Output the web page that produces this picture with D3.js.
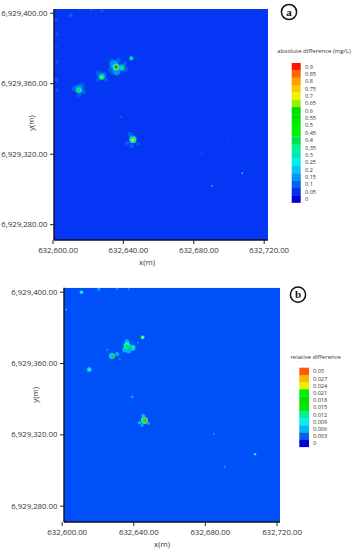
<!DOCTYPE html>
<html>
<head>
<meta charset="utf-8">
<script src="https://cdn.jsdelivr.net/npm/d3@7"></script>
<style>
  html, body { margin: 0; padding: 0; background: #fff; }
  text { font-family: "Open Sans", sans-serif; fill: #333; }
</style>
</head>
<body>
<div id="wrapper"></div>
<script>
const xTicks = [632600, 632640, 632680, 632720]
const yTicks = [6929280, 6929320, 6929360, 6929400]

// legend levels
const absLevels = [0, 0.05, 0.1, 0.15, 0.2, 0.25, 0.3, 0.35, 0.4, 0.45, 0.5, 0.55, 0.6, 0.65, 0.7, 0.75, 0.8, 0.85, 0.9]
const absColors = ["#0000d8", "#0030f0", "#0064e6", "#0096f0", "#00c8f0", "#00f0f0", "#00e8b4", "#00f08c", "#00e050", "#00f000", "#00ee00", "#00e400", "#00e000", "#96f000", "#f0f000", "#ffc800", "#ffa000", "#ff6400", "#ff1400"]
const relLevels = [0, 0.003, 0.006, 0.009, 0.012, 0.015, 0.018, 0.021, 0.024, 0.027, 0.03]
const relColors = ["#0000d8", "#0064e6", "#00b4f5", "#00f0f0", "#00f08c", "#00e800", "#00e000", "#00f000", "#e6f000", "#ffb400", "#ff5a00"]

// patches: [x offset, y offset, radius (m), level]
// x offset from 632,000, y offset from 6,929,000
const absPatches = [
  // left and top edge noise
  [602, 396, 0.9, 0.1], [602.5, 388, 0.9, 0.1], [602, 380, 0.8, 0.1], [602.5, 372, 0.9, 0.1], [602, 362, 1.1, 0.1], [602.5, 356, 0.8, 0.1],
  [610.5, 398.5, 1.1, 0.1], [622, 401.5, 0.8, 0.1], [628, 401, 0.8, 0.1],
  // spot west
  [612.5, 357, 1.6, 0.1], [616.5, 358.5, 1.8, 0.1], [617.5, 355, 1.4, 0.1], [615, 353.5, 1.3, 0.1],
  [615, 356.5, 2.2, 0.15], [615, 356, 1.6, 0.2], [615, 356, 1.1, 0.3], [615, 356, 0.75, 0.45],
  // spot middle
  [626, 365.5, 1.5, 0.1], [629.5, 365, 1.5, 0.1], [630.5, 362, 1.2, 0.1], [626, 362, 1.2, 0.1],
  [628, 364, 2, 0.15], [628, 363.4, 1.4, 0.25], [628, 363.4, 1, 0.45], [628, 363.4, 0.65, 0.65],
  // main spot
  [634, 372, 1.8, 0.1], [637.5, 373, 1.5, 0.1], [633, 367.5, 1.6, 0.1], [641, 371, 1.3, 0.1], [636.5, 365.5, 1.5, 0.1], [641, 368, 1.8, 0.1], [634, 366, 1.2, 0.1],
  [635, 370.5, 2.5, 0.15], [636.5, 367, 2.2, 0.15], [639.5, 369, 1.8, 0.15],
  [636.2, 369.2, 2, 0.25], [639.5, 368.6, 1.2, 0.25],
  [636.3, 369.2, 1.4, 0.4], [639.8, 368.6, 0.9, 0.4],
  [636.3, 369.2, 1, 0.65], [636.2, 369.2, 0.7, 0.9],
  // spot north east
  [644.8, 374.1, 1.3, 0.15], [644.8, 374.1, 0.9, 0.3], [644.8, 374.1, 0.6, 0.45],
  [641, 371.5, 0.7, 0.1],
  // spot south
  [644, 331, 1.3, 0.1], [642.5, 326, 1.2, 0.1], [648.5, 325.5, 1, 0.1], [645, 324.5, 1.2, 0.1],
  [645.7, 328.3, 2.2, 0.15], [645.7, 327.8, 1.8, 0.25], [645.7, 327.8, 1.4, 0.4], [645.7, 327.8, 1, 0.65], [645.7, 327.8, 0.55, 0.7],
  // isolated points
  [638.9, 340.8, 0.7, 0.1], [699.9, 326.8, 0.5, 0.1], [684.8, 320.6, 0.5, 0.1], [707.8, 308.9, 0.6, 0.2], [690.8, 301.8, 0.5, 0.2]
]
const relPatches = [
  // top edge
  [611, 399.7, 1, 0.009], [620.7, 401.5, 0.9, 0.006], [631, 401.5, 0.6, 0.006], [637.5, 401.5, 0.5, 0.006], [602.4, 390, 0.6, 0.006],
  // west point
  [615.4, 356.3, 1.4, 0.006], [615.4, 356.3, 0.9, 0.009],
  // spot middle
  [628, 364, 1.7, 0.006], [631, 365, 1.2, 0.006], [625.5, 367.5, 0.5, 0.006], [632.5, 362, 0.5, 0.006],
  [628.5, 363.6, 1.3, 0.009], [628.5, 363.5, 0.95, 0.018], [628.5, 363.5, 0.6, 0.03],
  // main spot
  [636.5, 372, 1.3, 0.006], [635.5, 367.5, 1.6, 0.006], [639.5, 368.5, 1.8, 0.006], [637.5, 366.5, 1.2, 0.006],
  [636.5, 369.8, 1.9, 0.009], [639.5, 368.6, 1.2, 0.009], [636.6, 369.4, 1.3, 0.012],
  [636.6, 369.2, 0.9, 0.015], [639, 368.6, 0.7, 0.015], [636.6, 369.2, 0.55, 0.021],
  // spot north east
  [645.2, 374.4, 1.2, 0.006], [645.2, 374.4, 0.9, 0.012], [645.2, 374.4, 0.6, 0.024], [642.5, 371.5, 0.5, 0.006],
  // spot south
  [645.5, 330.5, 1.1, 0.006], [643.5, 326.5, 1, 0.006], [648.5, 326, 0.8, 0.006], [645, 325, 0.8, 0.006],
  [646.2, 327.8, 2, 0.009], [646.4, 327.8, 1.6, 0.012], [646.4, 327.7, 1.3, 0.018], [646.4, 327.7, 1, 0.027], [646.4, 327.7, 0.7, 0.03],
  // isolated points
  [639.4, 341, 0.7, 0.006], [685, 320.4, 0.5, 0.006], [691, 301.7, 0.5, 0.006], [700, 327, 0.45, 0.003], [708, 308.8, 0.7, 0.009]
]

const panels = [
  {
    id: "a", patches: absPatches, levels: absLevels, colors: absColors, background: "#0535f5",
    left: 54, right: 268, top: 9, bottom: 240,
    x0: 52.5, xPerM: 1.76, y0: 12.7, yPerM: 1.7625,
    xLabelY: 262, yLabelX: 31.5, badgeX: 289, badgeY: 12,
    title: "absolute difference (mg/L)", titleX: 314, titleY: 52.5,
    legendX: 291.7, legendW: 9, legendTop: 63, rowH: 7.35, legendLabelX: 305
  },
  {
    id: "b", patches: relPatches, levels: relLevels, colors: relColors, background: "#0050fa",
    left: 64, right: 280, top: 287.7, bottom: 522,
    x0: 61.7, xPerM: 1.79, y0: 291.7, yPerM: 1.783,
    xLabelY: 544, yLabelX: 35, badgeX: 298, badgeY: 294.7,
    title: "relative difference", titleX: 315.7, titleY: 359,
    legendX: 299.3, legendW: 9.7, legendTop: 367.7, rowH: 7.2, legendLabelX: 313
  }
]

const wrapper = d3.select("#wrapper")
  .append("svg")
    .attr("width", 355)
    .attr("height", 550)
    .style("display", "block")

const blur = wrapper.append("defs").append("filter")
  .attr("id", "soft")
blur.append("feGaussianBlur").attr("stdDeviation", 0.4)

panels.forEach(drawPanel)

function drawPanel(p) {
  // scales follow the tick positions, the plot starts a little after 632,600
  const x = d3.scaleLinear()
    .domain([632600, 632720])
    .range([p.x0, p.x0 + 120 * p.xPerM])
  const y = d3.scaleLinear()
    .domain([6929400, 6929280])
    .range([p.y0, p.y0 + 120 * p.yPerM])
  const color = d3.scaleOrdinal().domain(p.levels).range(p.colors)

  wrapper.append("clipPath")
    .attr("id", "clip" + p.id)
    .append("rect")
      .attr("x", p.left).attr("y", p.top)
      .attr("width", p.right - p.left).attr("height", p.bottom - p.top)

  const map = wrapper.append("g").attr("clip-path", `url(#clip${p.id})`)
  map.append("rect")
    .attr("x", p.left).attr("y", p.top)
    .attr("width", p.right - p.left).attr("height", p.bottom - p.top)
    .attr("fill", p.background)

  map.append("g")
    .attr("filter", "url(#soft)")
    .selectAll("circle")
    .data(p.patches)
    .join("circle")
      .attr("cx", d => x(632000 + d[0]))
      .attr("cy", d => y(6929000 + d[1]))
      .attr("r", d => d[2] * p.xPerM)
      .attr("fill", d => color(d[3]))

  // axes
  const xAxis = wrapper.append("g")
    .attr("transform", `translate(0,${p.bottom})`)
    .call(d3.axisBottom(x).tickValues(xTicks).tickSize(4).tickPadding(3).tickFormat(d3.format(",.2f")))
  const yAxis = wrapper.append("g")
    .attr("transform", `translate(${p.left},0)`)
    .call(d3.axisLeft(y).tickValues(yTicks).tickSize(4).tickPadding(2.5).tickFormat(d3.format(",.2f")))

  xAxis.select(".domain").attr("d", `M${p.left},0H${p.right}`)
  yAxis.select(".domain").attr("d", `M0,${p.top}V${p.bottom}`)

  xAxis.selectAll("text").attr("dx", 5)
  wrapper.selectAll("g.tick text").attr("font-size", 7.8).attr("fill", "#333")
  ;[xAxis, yAxis].forEach(a => {
    a.attr("font-family", null)
    a.select(".domain").attr("stroke", "#111").attr("stroke-width", 1.4)
    a.selectAll(".tick line").attr("stroke", "#222").attr("stroke-width", 1)
  })

  wrapper.append("text")
    .attr("x", (p.left + p.right) / 2 + (p.id == "a" ? -14 : -10))
    .attr("y", p.xLabelY + 3)
    .attr("text-anchor", "middle")
    .attr("font-size", 7.8)
    .text("x(m)")
  wrapper.append("text")
    .attr("transform", `translate(${p.yLabelX + 2.5},${(p.top + p.bottom) / 2 + (p.id == "a" ? -1.5 : -10)}) rotate(-90)`)
    .attr("text-anchor", "middle")
    .attr("font-size", 7.8)
    .text("y(m)")

  // panel letter
  wrapper.append("circle")
    .attr("cx", p.badgeX).attr("cy", p.badgeY).attr("r", 7.6)
    .attr("fill", "#fff").attr("stroke", "#111").attr("stroke-width", 1.5)
  wrapper.append("text")
    .attr("x", p.badgeX).attr("y", p.badgeY + 3.5)
    .attr("text-anchor", "middle")
    .attr("font-size", 11)
    .attr("font-weight", "bold")
    .style("font-family", "'Liberation Serif', serif")
    .style("fill", "#111")
    .text(p.id)

  // legend
  wrapper.append("text")
    .attr("x", p.titleX).attr("y", p.titleY)
    .attr("text-anchor", "middle")
    .attr("font-size", 6)
    .text(p.title)

  const rows = p.levels.slice().reverse()
  const legendY = d3.scaleBand()
    .domain(rows)
    .range([p.legendTop, p.legendTop + rows.length * p.rowH])

  wrapper.append("g")
    .selectAll("rect")
    .data(rows)
    .join("rect")
      .attr("x", p.legendX)
      .attr("y", d => legendY(d))
      .attr("width", p.legendW)
      .attr("height", legendY.bandwidth() + 0.2)
      .attr("fill", d => color(d))
  wrapper.append("g")
    .selectAll("text")
    .data(rows)
    .join("text")
      .attr("x", p.legendLabelX)
      .attr("y", d => legendY(d) + legendY.bandwidth() / 2 + 2)
      .attr("font-size", 5.6)
      .text(d => d)
}
</script>
</body>
</html>
